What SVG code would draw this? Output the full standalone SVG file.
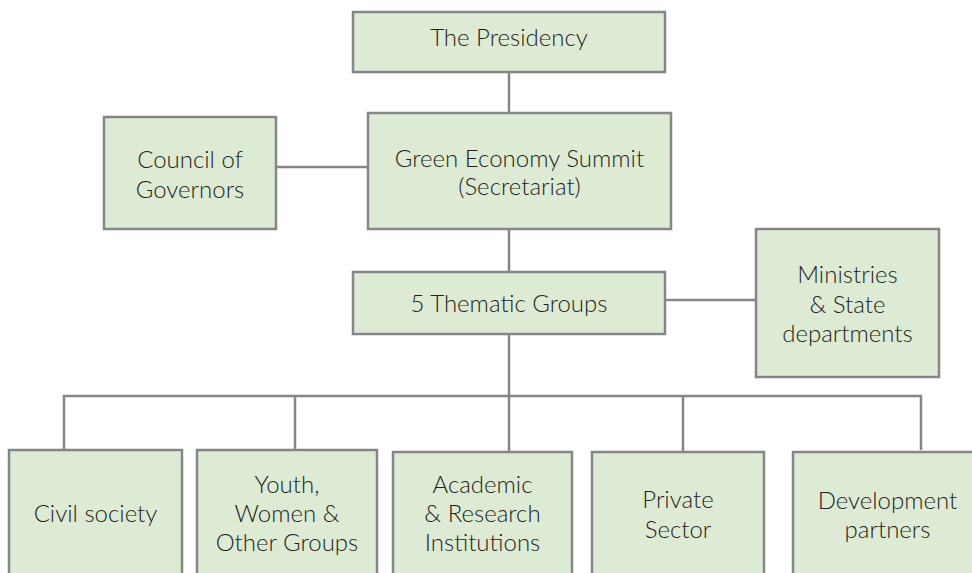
<svg xmlns="http://www.w3.org/2000/svg" width="972" height="573" viewBox="0 0 972 573">
<style>
.box{fill:#ddebd4;stroke:#848688;stroke-width:2.5}
.t{font-family:Lato,"Liberation Sans",sans-serif;font-size:24px;font-weight:300;fill:#231f20;text-anchor:middle}
.c{stroke:#848688;stroke-width:2.5;fill:none}
</style>
<rect width="972" height="573" fill="#ffffff"/>
<g id="connectors">
<line class="c" x1="509" y1="72" x2="509" y2="113"/>
<line class="c" x1="276" y1="167" x2="368" y2="167"/>
<line class="c" x1="509" y1="229" x2="509" y2="272"/>
<line class="c" x1="665" y1="300" x2="756" y2="300"/>
<line class="c" x1="509" y1="334" x2="509" y2="396"/>
<polyline class="c" points="64,450 64,396 921,396 921,450"/>
<line class="c" x1="295" y1="396" x2="295" y2="450"/>
<line class="c" x1="509" y1="396" x2="509" y2="452"/>
<line class="c" x1="683" y1="396" x2="683" y2="452"/>
</g>
<g id="presidency">
<rect class="box" x="353" y="12" width="312" height="60"/>
<text class="t" x="509" y="46">The Presidency</text>
</g>
<g id="council">
<rect class="box" x="104" y="117" width="172" height="112"/>
<text class="t" x="190" y="168">Council of</text>
<text class="t" x="190" y="198">Governors</text>
</g>
<g id="summit">
<rect class="box" x="368" y="113" width="303" height="116"/>
<text class="t" x="519.5" y="167">Green Economy Summit</text>
<text class="t" x="519.5" y="195">(Secretariat)</text>
</g>
<g id="thematic">
<rect class="box" x="353" y="272" width="312" height="62"/>
<text class="t" x="509" y="312">5 Thematic Groups</text>
</g>
<g id="ministries">
<rect class="box" x="756" y="229" width="183" height="148"/>
<text class="t" x="847.5" y="283">Ministries</text>
<text class="t" x="847.5" y="313">&amp; State</text>
<text class="t" x="847.5" y="342">departments</text>
</g>
<g id="civil">
<rect class="box" x="9" y="450" width="173" height="140"/>
<text class="t" x="95.5" y="522">Civil society</text>
</g>
<g id="youth">
<rect class="box" x="197" y="450" width="180" height="140"/>
<text class="t" x="287" y="493">Youth,</text>
<text class="t" x="287" y="522">Women &amp;</text>
<text class="t" x="287" y="551">Other Groups</text>
</g>
<g id="academic">
<rect class="box" x="393" y="452" width="179" height="140"/>
<text class="t" x="482.5" y="493">Academic</text>
<text class="t" x="482.5" y="522">&amp; Research</text>
<text class="t" x="482.5" y="551">Institutions</text>
</g>
<g id="private">
<rect class="box" x="592" y="452" width="172" height="140"/>
<text class="t" x="678" y="508">Private</text>
<text class="t" x="678" y="538">Sector</text>
</g>
<g id="development">
<rect class="box" x="793" y="452" width="189" height="140"/>
<text class="t" x="887.5" y="509">Development</text>
<text class="t" x="887.5" y="538">partners</text>
</g>
</svg>
